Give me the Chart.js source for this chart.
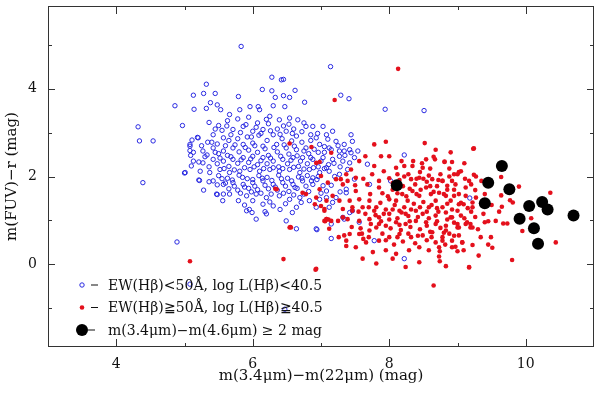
<!DOCTYPE html>
<html>
<head>
<meta charset="utf-8">
<script src="https://cdn.jsdelivr.net/npm/chart.js@4.4.0/dist/chart.umd.min.js"></script>
<style>
  html, body { margin: 0; padding: 0; background: #fff; }
</style>
</head>
<body>
<canvas id="grafico" width="600" height="393"></canvas>
<script>
const xTicks = [4, 6, 8, 10]
const xMinor = [5, 7, 9]
const yTicks = [0, 2, 4]
const yMinor = [-1, 1, 3, 5]

const etiquetas = [
  'EW(Hβ)<50Å, log L(Hβ)<40.5',
  'EW(Hβ)≧50Å, log L(Hβ)≧40.5',
  'm(3.4μm)−m(4.6μm) ≥ 2 mag'
]

// EW(Hb) < 50A  (circulos azules)
const puntosAzules = [
  [4.32,3.13],[4.34,2.81],[4.54,2.81],[4.39,1.86],[4.89,0.51],[4.86,3.61],[5.13,3.85],[5.14,3.53],
  [4.97,3.16],[5.08,2.73],[5.11,2.83],[5.19,2.89],[5.08,2.59],[5.13,2.55],[5.09,2.48],[5.00,2.08],
  [5.21,2.33],[5.21,1.92],[5.83,4.96],[5.32,4.10],[5.28,3.89],[5.45,3.89],[5.79,3.82],[5.38,3.68],
  [5.48,3.63],[5.32,3.55],[5.53,3.52],[7.14,4.50],[6.28,4.26],[6.42,4.20],[6.45,4.21],[6.14,3.98],
  [6.28,3.95],[6.62,3.96],[6.33,3.80],[6.45,3.84],[6.54,3.80],[7.29,3.85],[7.41,3.77],[6.76,3.69],
  [6.30,3.61],[6.47,3.59],[6.08,3.59],[7.94,3.53],[8.51,3.50],
  [5.28,1.69],[5.48,1.59],[5.57,1.60],[5.22,1.91],[5.36,1.88],[5.48,1.81],[5.60,1.85],
  [5.99,1.18],[6.18,1.20],[6.64,0.81],[6.94,0.79],[7.15,0.59],[5.08,-0.45],[6.47,-1.02],
  [5.66,3.41],[5.81,3.52],[5.96,3.59],[6.10,3.52],[6.25,3.37],[6.39,3.29],[6.54,3.33],
  [6.66,3.29],[6.78,3.14],[6.88,3.14],[7.03,3.14],[7.17,3.03],[7.08,2.95],[6.93,2.88],
  [5.20,2.88],[5.42,2.95],[5.57,2.88],[5.71,3.07],[5.86,3.14],[6.00,3.03],[6.15,3.07],[6.30,2.95],
  [6.49,3.03],[6.64,2.92],[5.27,2.58],[5.42,2.65],[5.57,2.58],[5.71,2.65],[5.86,2.73],[6.00,2.76],
  [6.15,2.69],[6.35,2.73],[6.49,2.65],[6.64,2.61],[6.78,2.65],[6.98,2.73],[7.12,2.65],[7.27,2.58],
  [7.42,2.61],[7.49,2.43],[7.32,2.35],[7.17,2.39],[7.03,2.43],[6.88,2.39],[6.73,2.43],[6.59,2.43],
  [6.44,2.39],[6.30,2.35],[6.15,2.43],[6.00,2.46],[5.86,2.43],[5.71,2.39],[5.57,2.35],[5.42,2.39],
  [5.27,2.31],[5.13,2.35],[5.01,2.09],[5.23,2.12],[5.37,2.09],[5.52,2.16],[5.66,2.09],[5.81,2.12],
  [5.96,2.16],[6.10,2.12],[6.25,2.16],[6.39,2.12],[6.54,2.16],[6.69,2.09],[6.83,2.16],[6.98,2.09],
  [7.12,2.12],[7.27,2.05],[7.39,2.16],[5.42,1.90],[5.57,1.82],[5.71,1.86],[5.86,1.82],[6.00,1.86],
  [6.15,1.90],[6.30,1.82],[6.44,1.86],[6.59,1.82],[6.73,1.90],[6.88,1.82],[7.03,1.79],
  [5.66,1.60],[5.91,1.56],[6.05,1.60],[6.20,1.52],[6.39,1.56],[6.54,1.48],[6.69,1.52],[6.83,1.45],
  [6.15,1.37],[6.30,1.33],[5.79,1.45],[5.95,1.25],[6.64,1.30],[6.71,1.41],[6.93,1.30],
  [7.05,2.68],[7.15,2.61],[7.34,2.58],[7.44,2.54],[7.27,2.46],[7.19,2.30],[8.22,2.49],[7.68,2.28],
  [7.42,2.31],[7.08,2.20],[6.96,2.00],[6.88,1.97],[7.08,1.67],[7.17,1.41],[6.98,1.48],[7.37,1.63],
  [7.71,1.82],[8.02,1.90],[7.42,1.18],[7.32,1.07],[7.56,0.96],[6.93,0.81],[7.78,0.54],[8.22,0.13],
  [9.18,1.51],
  [5.36,3.23],[5.50,3.16],[5.63,3.27],[5.78,3.31],[5.94,3.35],[6.07,3.22],[6.23,3.20],[6.36,3.08],
  [6.53,3.19],[5.34,2.78],[5.48,2.74],[5.65,2.82],[5.78,2.86],[5.92,2.90],[6.09,2.94],[6.21,2.82],
  [6.43,2.86],[6.57,2.81],[6.72,2.78],[6.85,2.82],[5.33,2.49],[5.50,2.52],[5.63,2.48],[5.80,2.56],
  [5.94,2.60],[6.07,2.55],[6.23,2.48],[6.36,2.56],[6.53,2.51],[6.65,2.47],[6.82,2.52],[6.96,2.55],
  [5.36,2.22],[5.48,2.29],[5.65,2.23],[5.78,2.30],[5.94,2.32],[6.07,2.27],[6.21,2.29],[6.38,2.22],
  [6.51,2.29],[6.67,2.23],[6.80,2.29],[6.96,2.22],[7.11,2.27],[5.50,2.02],[5.63,1.96],[5.80,2.03],
  [5.92,1.95],[6.09,2.02],[6.21,1.98],[6.38,2.03],[6.51,1.96],[6.67,1.99],[6.80,2.02],[6.94,1.93],
  [5.65,1.72],[5.78,1.69],[5.94,1.73],[6.07,1.70],[6.23,1.72],[6.36,1.69],[6.53,1.66],[6.65,1.73],
  [6.82,1.66],[5.47,1.60],[5.56,1.45],[5.91,1.22],[6.05,1.03],[6.49,0.99],[6.20,1.15],[5.08,2.69],
  [5.10,2.24],[7.44,2.95],[7.46,2.80],[7.54,2.58],[7.34,2.73],[7.22,2.80],[7.49,1.94],[7.37,1.71],
  [7.22,1.52],[7.08,1.52],[7.12,1.30],[7.46,1.22],[7.34,1.03],[7.15,0.92],
  [5.55,3.05],[5.68,2.95],[5.82,3.00],[5.98,2.90],[6.12,2.98],[6.26,3.04],[6.40,2.96],[6.58,2.98],
  [6.72,3.02],[6.85,2.95],[5.60,2.70],[5.74,2.72],[5.89,2.66],[6.03,2.70],[6.18,2.63],[6.31,2.66],
  [6.46,2.72],[6.61,2.69],[6.75,2.58],[6.90,2.62],[7.05,2.55],[5.52,2.42],[5.68,2.45],[5.83,2.38],
  [5.97,2.40],[6.12,2.36],[6.26,2.42],[6.41,2.46],[6.56,2.37],[6.70,2.35],[6.85,2.43],[7.00,2.35],
  [5.58,2.18],[5.73,2.15],[5.88,2.20],[6.02,2.22],[6.16,2.18],[6.30,2.20],[6.44,2.18],[6.60,2.21],
  [6.75,2.17],[6.89,2.20],[7.05,2.18],[5.55,1.95],[5.70,1.92],[5.85,1.98],[6.00,1.93],[6.14,1.96],
  [6.28,1.91],[6.42,1.95],[6.57,1.90],[6.72,1.96],[6.86,1.90],[5.73,1.78],[5.88,1.76],[6.03,1.78],
  [6.18,1.80],[6.33,1.76],[6.48,1.78],[6.62,1.75],[6.78,1.78],[5.82,1.62],[5.98,1.65],[6.12,1.62],
  [6.27,1.60],[6.45,1.62],[6.60,1.58],[6.75,1.60],[6.00,1.45],[6.25,1.42],[6.48,1.38],[5.88,1.35],
  [6.40,1.25],[6.58,1.18],[5.45,2.55],[5.40,2.78],[5.30,2.45],[5.25,2.70],[5.45,3.08],[5.62,3.15],
  [5.90,3.18],[6.05,3.12],[6.20,3.30],[6.45,3.15],[6.60,3.08],[6.75,3.22],[6.95,2.98],[7.10,2.85],
  [7.25,2.70],[7.35,2.48],[7.28,2.22],[7.20,2.00],[7.15,1.80],[7.28,1.65],[7.00,1.62]
]

// EW(Hb) >= 50A  (puntos rojos)
const puntosRojos = [
  [8.13,4.45],[7.20,3.74],[5.08,0.07],[6.55,0.85],[6.45,0.12],[6.92,-0.12],[6.33,1.72],[7.26,0.62],
  [7.37,0.42],[7.34,0.66],[7.06,0.98],[7.11,1.02],[7.12,0.81],
  [8.65,-0.48],[8.83,-0.04],[9.17,-0.07],[9.31,0.20],[9.80,0.10],[8.74,0.07],[8.73,0.18],[8.74,0.30],
  [9.00,0.30],[9.23,2.63],[8.92,2.33],[10.36,1.63],[9.90,1.77],[10.44,0.50],[10.08,1.05],[9.95,0.76],
  [9.73,0.93],[9.67,0.93],[9.49,0.62],[9.51,0.38],[9.34,0.62],[9.22,0.44],[9.07,0.50],[9.61,1.20],
  [9.65,1.31],[9.64,1.57],[9.64,1.99],[9.77,1.46],[9.81,1.41],[9.56,0.99],[9.45,0.98],[9.40,0.96],
  [9.26,1.08],[9.24,2.04],[9.27,2.00],[9.20,1.82],[9.26,1.69],[9.22,1.41],[9.20,1.20],[9.12,1.56],
  [9.02,2.10],[9.00,2.05],[9.11,1.95],[8.81,2.33],[8.88,2.18],[8.78,1.90],[8.85,1.79],[8.95,1.56],
  [9.02,1.37],[8.90,1.07],[9.00,0.84],[8.83,0.77],[8.78,0.54],[8.92,0.39],[9.09,0.32],[9.19,0.84],
  [9.12,0.92],
  [8.00,2.46],[7.88,2.46],[7.65,2.46],[8.52,2.76],[8.68,2.61],[8.54,2.39],[8.67,2.39],[8.81,2.34],
  [9.24,2.64],[8.22,2.24],[8.34,2.24],[8.49,2.20],[9.05,2.12],[8.95,2.05],[8.12,2.05],[8.00,1.96],
  [8.32,1.94],[8.44,1.97],[8.63,1.94],[8.78,1.90],[9.17,1.90],[7.68,1.82],[7.85,1.75],[7.51,1.67],
  [7.37,2.05],[7.44,2.16],[7.32,1.82],[7.10,1.86],[6.98,1.71],[7.17,1.56],[7.27,1.45],[7.42,1.45],
  [7.56,1.48],[7.71,1.45],[7.81,1.30],[7.61,1.30],[7.46,1.22],[7.32,1.26],[7.05,1.22],[7.05,0.99],
  [7.15,0.99],[7.25,0.99],[7.56,0.99],[7.71,1.03],[7.85,1.07],[8.00,1.15],[8.10,1.45],[8.19,1.60],
  [8.27,1.45],[8.34,1.67],[8.44,1.56],[8.54,1.75],[8.61,1.60],[8.68,1.45],[8.73,1.63],[8.83,1.56],
  [8.90,1.45],[9.02,1.60],[9.09,1.37],[9.22,1.30],[9.27,1.52],[8.15,1.22],[8.24,1.15],[8.39,1.22],
  [8.49,1.15],[8.58,1.30],[8.68,1.11],[8.83,1.18],[8.92,1.07],[9.05,1.11],[9.14,0.96],[9.22,0.84],
  [9.02,0.84],[8.83,0.88],[8.68,0.92],[8.54,0.96],[8.39,0.99],[8.24,0.92],[8.10,0.96],[7.95,0.88],
  [7.81,0.84],[7.71,0.77],[7.56,0.69],[7.42,0.69],[7.37,0.54],[7.51,0.39],[7.66,0.50],[7.85,0.54],
  [8.00,0.62],[8.15,0.69],[8.32,0.62],[8.49,0.66],[8.63,0.73],[8.78,0.62],[8.92,0.54],[9.07,0.50],
  [8.73,0.39],[8.58,0.32],[8.44,0.39],[8.29,0.32],[8.10,0.24],[7.95,0.32],[7.76,0.28],[7.61,0.13],
  [7.81,0.02],[8.05,0.13],[8.24,-0.06],[8.44,0.05],[6.93,-0.10],[6.54,0.84],[6.91,1.37],[7.00,1.33],
  [7.08,1.03],[6.78,1.60],[6.73,1.63],[7.00,2.01],[7.22,1.94],[7.56,2.35],[7.78,2.24],[9.19,0.92],
  [9.17,-0.06],[6.54,2.75],[6.35,1.71],[6.86,2.67],[6.93,2.31],[6.98,2.33],[7.15,2.54],[7.39,1.90],
  [7.51,1.97],[7.29,1.94],[6.93,1.52],[7.08,1.45],[7.05,1.26],[7.08,1.03],[7.32,1.07],[7.39,1.03],
  [7.46,1.30],[6.56,0.84],[7.95,2.79],[7.78,2.73],
  [7.72,1.60],[7.90,1.62],[8.05,1.70],[8.20,1.78],[8.38,1.82],[8.55,1.88],[8.70,1.78],[8.85,1.70],
  [8.97,1.82],[9.12,1.75],[7.65,1.15],[7.80,1.12],[7.95,1.25],[8.08,1.35],[8.22,1.30],[8.36,1.38],
  [8.50,1.42],[8.62,1.35],[8.78,1.30],[8.92,1.25],[9.05,1.40],[9.15,1.28],[7.58,0.82],[7.73,0.92],
  [7.88,0.98],[8.02,0.82],[8.17,0.78],[8.31,0.85],[8.45,0.80],[8.60,0.74],[8.75,0.83],[8.88,0.70],
  [9.02,0.66],[7.62,0.58],[7.90,0.70],[8.07,0.45],[8.20,0.52],[8.38,0.48],[8.55,0.55],[8.68,0.50],
  [8.82,0.45],[8.97,0.40],[7.75,2.05],[7.92,2.12],[8.10,2.20],[8.28,2.05],[8.45,2.10],[8.60,2.18],
  [8.75,2.05],[8.88,2.00],[7.50,1.80],[7.62,1.95],[7.85,1.90],[8.15,1.92],[8.50,1.95],[8.65,1.65],
  [8.40,1.60],[8.25,1.55],[8.00,1.48],[7.87,1.40],[8.12,1.05],[8.28,1.10],[8.58,1.05],[8.72,1.20],
  [8.95,0.95],[9.10,1.05],[7.70,1.30],[7.55,1.20],[7.45,0.85],[7.60,0.70],[8.35,2.35],[8.65,2.45],
  [8.90,2.55],[9.10,2.30],[9.35,1.90],[9.40,1.60],[9.50,1.35],[9.38,1.15],[9.30,0.80],[9.45,0.45],
  [7.98,1.55],[8.12,1.62],[8.30,1.72],[8.46,1.70],[8.60,1.78],[8.80,1.60],[8.95,1.70],[7.78,1.22],
  [7.92,1.15],[8.05,1.25],[8.18,1.18],[8.32,1.25],[8.45,1.30],[8.55,1.20],[8.70,1.28],[8.85,1.38],
  [9.00,1.22],[7.85,0.92],[8.00,1.02],[8.15,0.90],[8.30,0.98],[8.42,1.08],[8.55,0.88],[8.70,0.98],
  [8.85,1.02],[9.00,0.92],[7.70,0.62],[7.95,0.55],[8.12,0.62],[8.28,0.70],[8.42,0.65],[8.62,0.62],
  [8.80,0.72],[8.95,0.65],[8.05,1.85],[8.22,2.00],[8.40,1.95],[8.58,2.02],[8.72,1.92],[8.92,1.90],
  [8.18,2.35],[8.48,2.30]
]

// m(3.4)-m(4.6) >= 2 mag  (puntos negros grandes)
const puntosNegros = [
  [8.11,1.80],[9.45,1.86],[9.65,2.24],[9.76,1.71],[9.40,1.39],[10.05,1.33],
  [10.24,1.42],[10.32,1.25],[10.70,1.11],[9.91,1.04],[10.12,0.82],[10.18,0.47]
]

const fuente = { family: 'DejaVu Serif', size: 14 }
const aXY = arr => arr.map(([x, y]) => ({ x, y }))

const marcoPlugin = {
  id: 'marco',
  afterDraw(chart) {
    const { ctx, chartArea: a, scales: { x, y } } = chart
    ctx.save()
    ctx.strokeStyle = '#333'
    ctx.lineWidth = 1
    ctx.strokeRect(a.left + 0.5, a.top + 0.5, a.right - a.left - 1, a.bottom - a.top - 1)
    ctx.beginPath()
    const marcaX = (v, largo) => {
      const px = Math.round(x.getPixelForValue(v)) + 0.5
      ctx.moveTo(px, a.bottom); ctx.lineTo(px, a.bottom - largo)
      ctx.moveTo(px, a.top); ctx.lineTo(px, a.top + largo)
    }
    const marcaY = (v, largo) => {
      const py = Math.round(y.getPixelForValue(v)) + 0.5
      ctx.moveTo(a.left, py); ctx.lineTo(a.left + largo, py)
      ctx.moveTo(a.right, py); ctx.lineTo(a.right - largo, py)
    }
    xTicks.forEach(v => marcaX(v, 8))
    xMinor.forEach(v => marcaX(v, 4))
    yTicks.forEach(v => marcaY(v, 7))
    yMinor.forEach(v => marcaY(v, 4))
    ctx.stroke()
    ctx.restore()
  }
}

const leyendaPlugin = {
  id: 'leyenda',
  afterDraw(chart) {
    const ctx = chart.ctx
    ctx.save()
    ctx.font = '14px "DejaVu Serif"'
    ctx.textBaseline = 'middle'
    chart.data.datasets.forEach((ds, i) => {
      const cy = 285 + i * 22.5
      const cx = 82
      ctx.beginPath()
      ctx.arc(cx, cy, ds.pointRadius, 0, Math.PI * 2)
      if (ds.backgroundColor === 'transparent') {
        ctx.strokeStyle = ds.borderColor
        ctx.lineWidth = 1
        ctx.stroke()
      } else {
        ctx.fillStyle = ds.backgroundColor
        ctx.fill()
      }
      ctx.fillStyle = '#111'
      ctx.fillRect(i === 2 ? 88 : 91, cy - 0.5, 7, 1)
      ctx.fillText(ds.label, 108, cy + 1)
    })
    ctx.restore()
  }
}

new Chart(document.getElementById('grafico'), {
  type: 'scatter',
  data: {
    datasets: [
      {
        label: etiquetas[0],
        data: aXY(puntosAzules),
        backgroundColor: 'transparent',
        borderColor: 'rgb(40,40,225)',
        borderWidth: 1,
        pointRadius: 2.2,
        order: 2
      },
      {
        label: etiquetas[1],
        data: aXY(puntosRojos),
        backgroundColor: 'rgb(228,16,28)',
        borderColor: 'rgb(228,16,28)',
        borderWidth: 0,
        pointRadius: 2.3,
        order: 1
      },
      {
        label: etiquetas[2],
        data: aXY(puntosNegros),
        backgroundColor: '#000',
        borderColor: '#000',
        borderWidth: 0,
        pointRadius: 6,
        order: 0
      }
    ]
  },
  options: {
    responsive: false,
    animation: false,
    devicePixelRatio: 1,
    layout: { padding: { top: 4, right: 4, left: 0, bottom: 0 } },
    plugins: {
      legend: { display: false },
      tooltip: { enabled: false }
    },
    scales: {
      x: {
        type: 'linear',
        min: 3,
        max: 11,
        afterBuildTicks: s => { s.ticks = xTicks.map(v => ({ value: v })) },
        afterFit: s => { s.height = 46; s.paddingLeft = 0; s.paddingRight = 0 },
        grid: { display: false, drawTicks: false },
        border: { display: false },
        ticks: { padding: 9, font: fuente, color: '#111' },
        title: {
          display: true,
          text: 'm(3.4μm)−m(22μm) (mag)',
          font: { family: 'DejaVu Serif', size: 15 },
          color: '#111',
          padding: { top: 0, bottom: 8 }
        }
      },
      y: {
        type: 'linear',
        min: -1.88,
        max: 5.88,
        afterBuildTicks: s => { s.ticks = yTicks.map(v => ({ value: v })) },
        afterFit: s => { s.width = 48; s.paddingTop = 0; s.paddingBottom = 0 },
        grid: { display: false, drawTicks: false },
        border: { display: false },
        ticks: { padding: 11, font: fuente, color: '#111' },
        title: {
          display: true,
          text: 'm(FUV)−r (mag)',
          font: { family: 'DejaVu Serif', size: 15 },
          color: '#111',
          padding: { top: 3, bottom: 0 }
        }
      }
    }
  },
  plugins: [marcoPlugin, leyendaPlugin]
})
</script>
</body>
</html>
